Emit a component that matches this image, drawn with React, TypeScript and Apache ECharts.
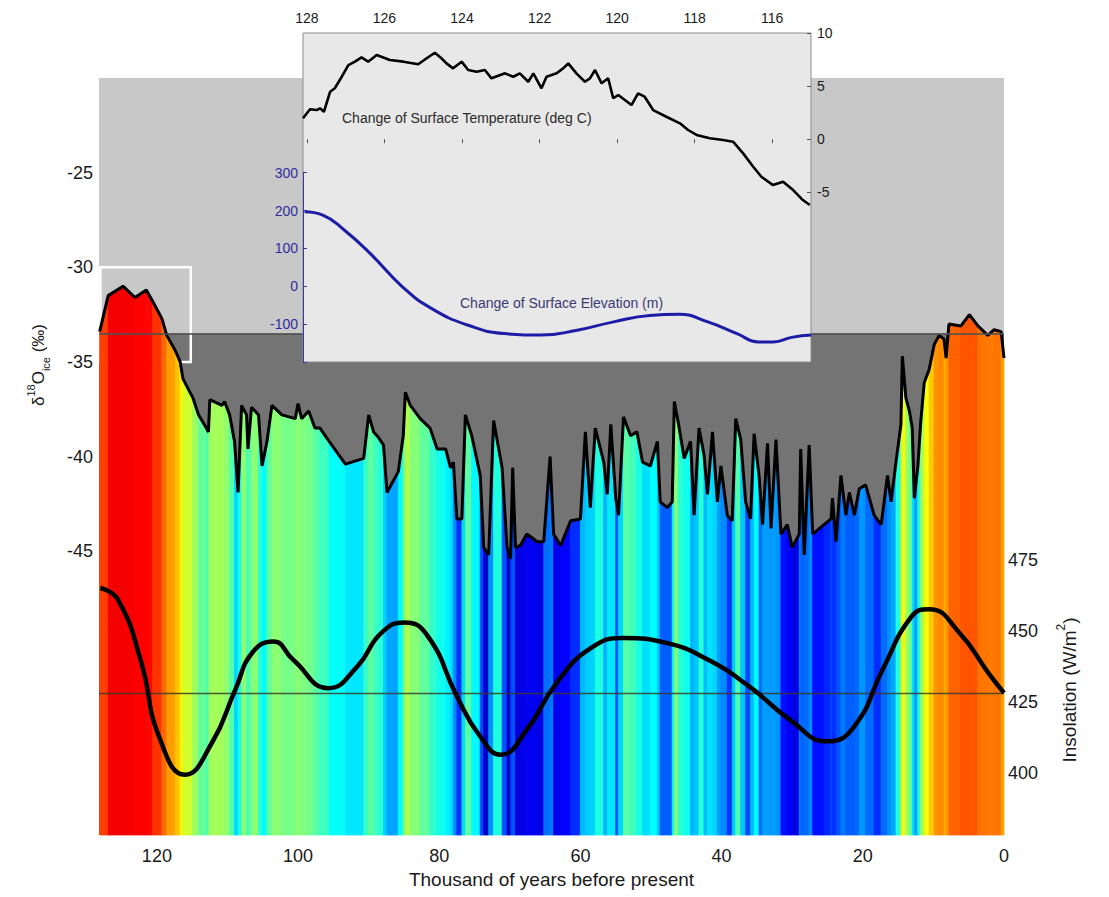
import React, { useEffect, useRef } from "react";
import * as echarts from "echarts";

// ---------- data ----------
// NGRIP-like δ18O record: [age (kyr BP), δ18O (‰)]
const D18O_RECORD: [number, number][] = [
  [128.1, -33.4], [126.9, -31.5], [124.8, -31.0], [123.1, -31.6], [121.5, -31.2], [120.6, -31.8],
  [119.3, -32.7], [118.6, -33.6], [117.4, -34.4], [116.7, -35.0], [116.3, -35.9], [114.9, -36.9],
  [114.1, -37.8], [113.0, -38.5], [112.7, -38.7], [112.5, -37.0], [110.8, -37.3], [110.4, -37.1],
  [109.7, -37.8], [109.0, -39.2], [108.5, -41.9], [108.0, -37.3], [107.3, -37.8], [107.1, -39.6],
  [106.6, -37.4], [105.6, -37.8], [105.1, -40.5], [104.4, -39.2], [103.7, -37.3], [102.3, -37.8],
  [100.4, -38.0], [100.0, -37.2], [99.5, -38.0], [98.5, -37.6], [97.6, -38.5], [96.9, -38.5],
  [95.6, -39.2], [93.3, -40.4], [90.7, -40.1], [90.0, -37.8], [89.3, -38.7], [88.6, -39.0],
  [87.9, -39.4], [87.4, -41.9], [85.8, -40.8], [85.1, -38.9], [84.8, -36.6], [84.1, -37.3],
  [82.7, -38.0], [81.3, -38.5], [80.3, -39.6], [79.1, -39.6], [78.4, -40.6], [78.0, -40.3],
  [77.5, -43.3], [76.8, -43.3], [76.3, -37.8], [75.4, -38.9], [74.2, -41.0], [73.7, -44.8],
  [73.0, -45.2], [72.3, -38.1], [71.1, -40.6], [70.4, -44.8], [69.9, -45.4], [69.6, -40.6],
  [69.2, -44.8], [68.5, -44.7], [67.6, -44.1], [66.1, -44.5], [65.2, -44.5], [64.3, -40.0],
  [63.8, -44.1], [62.8, -44.7], [61.4, -43.4], [60.0, -43.3], [59.3, -38.7], [58.6, -42.7],
  [57.9, -38.5], [56.7, -40.3], [56.2, -42.0], [55.7, -38.3], [55.0, -42.2], [54.6, -43.1],
  [53.9, -37.9], [52.9, -38.9], [52.0, -38.7], [51.2, -40.3], [50.1, -40.5], [49.1, -39.2],
  [48.7, -42.4], [47.7, -42.7], [47.0, -42.4], [46.7, -37.1], [46.1, -38.3], [45.3, -40.1],
  [44.4, -39.2], [43.9, -43.1], [43.2, -38.5], [42.5, -39.9], [42.0, -42.0], [41.3, -38.7],
  [40.6, -42.4], [40.1, -40.5], [39.2, -43.1], [38.5, -43.4], [38.0, -38.0], [37.3, -39.1],
  [36.6, -42.4], [35.9, -43.3], [35.4, -38.8], [34.7, -41.0], [34.2, -43.6], [33.5, -39.3],
  [33.0, -43.8], [32.3, -39.1], [31.6, -44.1], [30.7, -43.6], [30.0, -44.8], [29.0, -44.1],
  [28.8, -39.6], [28.3, -45.2], [27.6, -39.4], [27.1, -44.1], [25.5, -43.6], [24.5, -43.3],
  [24.3, -42.2], [23.8, -44.5], [23.1, -41.0], [22.4, -43.1], [21.9, -41.9], [21.2, -43.1],
  [20.5, -41.7], [19.6, -41.5], [18.4, -43.1], [17.4, -43.6], [16.5, -41.0], [16.0, -42.4],
  [15.3, -40.3], [14.6, -38.3], [14.4, -34.7], [13.9, -36.9], [13.4, -37.6], [13.0, -38.5],
  [12.7, -42.2], [12.2, -40.5], [11.8, -38.2], [11.3, -36.1], [10.6, -35.4], [9.9, -34.1],
  [9.2, -33.6], [8.5, -33.8], [8.2, -34.8], [7.8, -33.0], [6.1, -33.1], [4.9, -32.5],
  [3.7, -33.1], [2.3, -33.6], [1.4, -33.3], [0.4, -33.4], [0.0, -34.8],
];

// Summer insolation: [age (kyr BP), W/m2]
const INSOLATION: [number, number][] = [
  [128.0, 465.3], [125.5, 461.1], [122.2, 438.9], [119.7, 412.8], [116.0, 399.3], [112.2, 410.6],
  [108.9, 429.3], [106.5, 442.4], [103.5, 446.4], [100.7, 439.9], [95.7, 429.9], [91.6, 437.6],
  [88.2, 449.4], [84.9, 453.1], [81.6, 448.2], [77.5, 427.0], [74.2, 412.8], [71.3, 406.4],
  [67.6, 415.2], [63.4, 431.7], [58.5, 444.1], [53.9, 447.6], [47.7, 445.8], [41.9, 439.9],
  [36.1, 430.5], [30.3, 418.7], [25.0, 411.1], [21.2, 416.4], [17.2, 436.4], [13.1, 455.2],
  [10.6, 457.8], [6.3, 449.4], [2.2, 435.2], [0.0, 428.2],
];
const PRESENT_INSOLATION = 428;
const PRESENT_D18O_LEVEL = -33.5;

// Inset: change of surface temperature (deg C)
const TEMP_CHANGE: [number, number][] = [
  [128.1, 1.96], [127.92, 2.81], [127.75, 2.74], [127.66, 2.9], [127.56, 2.58], [127.4, 4.47],
  [127.28, 4.79], [127.1, 5.88], [126.93, 6.98], [126.76, 7.3], [126.59, 7.71], [126.42, 7.3],
  [126.2, 7.93], [125.86, 7.46], [125.51, 7.3], [125.13, 7.05], [124.91, 7.62], [124.7, 8.14],
  [124.53, 7.62], [124.4, 7.14], [124.23, 6.67], [124.01, 7.3], [123.84, 6.51], [123.62, 6.35],
  [123.41, 6.51], [123.24, 5.73], [122.89, 6.2], [122.68, 5.88], [122.51, 6.2], [122.29, 5.41],
  [122.16, 6.2], [121.95, 4.79], [121.82, 5.88], [121.56, 6.2], [121.39, 6.67], [121.26, 7.14],
  [121.05, 6.2], [120.83, 5.41], [120.7, 5.73], [120.57, 6.51], [120.4, 5.26], [120.23, 5.73],
  [120.1, 3.85], [119.97, 4.16], [119.8, 3.69], [119.63, 3.21], [119.46, 4.32], [119.29, 4.0],
  [119.07, 2.74], [118.73, 2.11], [118.38, 1.49], [118.17, 0.86], [117.95, 0.39], [117.61, 0.08],
  [117.27, -0.08], [117.01, -0.24], [116.75, -1.34], [116.49, -2.6], [116.28, -3.54], [115.98, -4.33],
  [115.72, -4.01], [115.46, -4.8], [115.21, -5.74], [115.03, -6.21],
];

// Inset: change of surface elevation (m)
const ELEV_CHANGE: [number, number][] = [
  [128.06, 197], [127.59, 188], [127.03, 148], [126.37, 87], [125.53, -2], [124.78, -59],
  [123.84, -103], [122.91, -125], [121.97, -129], [121.03, -116], [120.09, -94], [119.16, -77],
  [118.41, -74], [117.66, -94], [116.91, -125], [116.35, -147], [115.97, -147], [115.5, -135],
  [114.99, -129],
];

const MAIN_X_TICKS = [120, 100, 80, 60, 40, 20, 0];
const D18O_TICKS = [-25, -30, -35, -40, -45];
const INSOL_TICKS = [400, 425, 450, 475];
const INSET_X_TICKS = [128, 126, 124, 122, 120, 118, 116];
const TEMP_TICKS = [10, 5, 0, -5];
const ELEV_TICKS = [300, 200, 100, 0, -100];
// window of the main record shown in the inset
const INSET_WINDOW_AGE = [128, 115.2];
const INSET_WINDOW_D18O = [-30, -35];

// ---------- helpers ----------
const D18O_MIN = -60;
const D18O_MAX = -20;
const JET_LOW = -46.2;
const JET_HIGH = -29.3;

function jet(v: number): string {
  const t = Math.max(0, Math.min(1, (v - JET_LOW) / (JET_HIGH - JET_LOW)));
  const c = (x: number) => Math.round(255 * Math.max(0, Math.min(1, 1.5 - Math.abs(x))));
  return `rgb(${c(4 * t - 3)},${c(4 * t - 2)},${c(4 * t - 1)})`;
}

const FONT = "'Liberation Sans', Arial, Helvetica, sans-serif";
const TXT = "#1a1a1a";

export default function App() {
  const ref = useRef<HTMLDivElement>(null);

  useEffect(() => {
    if (!ref.current) return;
    const chart = echarts.init(ref.current, undefined, { renderer: "svg" });

    const segments: number[][] = [];
    for (let i = 0; i < D18O_RECORD.length - 1; i++) {
      segments.push([D18O_RECORD[i][0], D18O_RECORD[i][1], D18O_RECORD[i + 1][0], D18O_RECORD[i + 1][1]]);
    }

    const option: any = {
      animation: false,
      grid: [
        { left: 99, top: 78, width: 905, height: 757, show: true, backgroundColor: "#c8c8c8", borderWidth: 0, z: 0 },
        { left: 303, top: 33, width: 508, height: 329, show: true, backgroundColor: "#e8e8e8", borderColor: "#8c8c8c", borderWidth: 1, z: 20 },
        { left: 303, top: 172.7, width: 508, height: 189.3, show: false, z: 21 },
      ],
      xAxis: [
        {
          gridIndex: 0, type: "value", min: 0, max: 128.2, inverse: true,
          axisLine: { show: false }, axisTick: { show: false }, splitLine: { show: false },
          axisLabel: { customValues: MAIN_X_TICKS, fontSize: 18, color: TXT, fontFamily: FONT, margin: 12 },
          name: "Thousand of years before present", nameLocation: "middle", nameGap: 34,
          nameTextStyle: { fontSize: 19, color: TXT, fontFamily: FONT },
        },
        {
          gridIndex: 1, type: "value", min: 115, max: 128.1, inverse: true, position: "top", z: 22,
          axisLine: { show: false }, splitLine: { show: false },
          axisTick: { show: true, inside: true, length: 4, customValues: INSET_X_TICKS, lineStyle: { color: "#555" } },
          axisLabel: { customValues: INSET_X_TICKS, fontSize: 14, color: TXT, fontFamily: FONT, margin: 8 },
        },
        { gridIndex: 2, type: "value", min: 115, max: 128.1, inverse: true, show: false },
      ],
      yAxis: [
        {
          gridIndex: 0, type: "value", min: D18O_MIN, max: D18O_MAX, interval: 5,
          axisLine: { show: false }, axisTick: { show: false }, splitLine: { show: false },
          axisLabel: {
            fontSize: 18, color: TXT, fontFamily: FONT, margin: 6,
            formatter: (v: number) => (D18O_TICKS.includes(v) ? String(v) : ""),
          },
        },
        {
          gridIndex: 0, type: "value", min: 378, max: 645.5, position: "right",
          axisLine: { show: false }, axisTick: { show: false }, splitLine: { show: false },
          axisLabel: { customValues: INSOL_TICKS, fontSize: 18, color: TXT, fontFamily: FONT, margin: 4 },
        },
        {
          gridIndex: 1, type: "value", min: -21, max: 10, position: "right", z: 22,
          axisLine: { show: false }, splitLine: { show: false },
          axisTick: { show: true, inside: true, length: 4, customValues: TEMP_TICKS, lineStyle: { color: "#555" } },
          axisLabel: { customValues: TEMP_TICKS, fontSize: 14, color: TXT, fontFamily: FONT, margin: 6 },
        },
        {
          gridIndex: 2, type: "value", min: -200, max: 300, interval: 100, position: "left", z: 22,
          axisLine: { show: true, lineStyle: { color: "#3a3a9a", width: 1 } }, splitLine: { show: false },
          axisTick: { show: true, inside: true, length: 4, lineStyle: { color: "#3a3a9a" } },
          axisLabel: {
            fontSize: 14, color: "#2e2e9e", fontFamily: FONT, margin: 5,
            formatter: (v: number) => (ELEV_TICKS.includes(v) ? String(v) : ""),
          },
        },
      ],
      series: [
        {
          // dark-gray zone below present-day level
          type: "line", xAxisIndex: 0, yAxisIndex: 0, z: 1, silent: true,
          data: [[0, D18O_MIN], [128.2, D18O_MIN]], symbol: "none", lineStyle: { opacity: 0 },
          markArea: { silent: true, itemStyle: { color: "#747474" }, data: [[{ yAxis: PRESENT_D18O_LEVEL }, { yAxis: D18O_MIN }]] },
        },
        {
          // jet-coloured fill beneath the δ18O curve
          type: "custom", xAxisIndex: 0, yAxisIndex: 0, z: 2, silent: true,
          data: segments,
          encode: { x: [0, 2], y: [1, 3] },
          renderItem: (_params: any, api: any) => {
            const a0 = api.value(0), v0 = api.value(1), a1 = api.value(2), v1 = api.value(3);
            const p0 = api.coord([a0, v0]);
            const p1 = api.coord([a1, v1]);
            const b1 = api.coord([a1, D18O_MIN]);
            const b0 = api.coord([a0, D18O_MIN]);
            const col = jet((v0 + v1) / 2);
            return {
              type: "polygon",
              shape: { points: [p0, p1, b1, b0] },
              style: { fill: col, stroke: col, lineWidth: 0.8 },
            };
          },
        },
        {
          type: "line", xAxisIndex: 0, yAxisIndex: 0, z: 3, silent: true,
          data: [], symbol: "none",
          markLine: {
            silent: true, symbol: "none", label: { show: false },
            lineStyle: { color: "rgba(80,80,80,0.8)", width: 2, type: "solid" },
            data: [{ yAxis: PRESENT_D18O_LEVEL }],
          },
        },
        {
          type: "line", xAxisIndex: 0, yAxisIndex: 0, z: 4, silent: true,
          data: D18O_RECORD, symbol: "none",
          lineStyle: { color: "#000", width: 3 },
        },
        {
          type: "line", xAxisIndex: 0, yAxisIndex: 1, z: 5, silent: true,
          data: INSOLATION, symbol: "none", smooth: 0.5,
          lineStyle: { color: "#000", width: 4.5 },
          markLine: {
            silent: true, symbol: "none", label: { show: false },
            lineStyle: { color: "rgba(60,60,40,0.85)", width: 1.3, type: "solid" },
            data: [{ yAxis: PRESENT_INSOLATION }],
          },
        },
        {
          type: "line", xAxisIndex: 0, yAxisIndex: 0, z: 6, silent: true,
          data: [], symbol: "none",
          markArea: {
            silent: true,
            itemStyle: { color: "rgba(0,0,0,0)", borderColor: "#ffffff", borderWidth: 2.5 },
            data: [[
              { xAxis: INSET_WINDOW_AGE[0], yAxis: INSET_WINDOW_D18O[0] },
              { xAxis: INSET_WINDOW_AGE[1], yAxis: INSET_WINDOW_D18O[1] },
            ]],
          },
        },
        {
          type: "line", xAxisIndex: 1, yAxisIndex: 2, z: 23, silent: true,
          data: TEMP_CHANGE, symbol: "none",
          lineStyle: { color: "#000", width: 2.6 },
          markLine: {
            silent: true, symbol: "none", label: { show: false },
            lineStyle: { color: "#8c8c8c", width: 1.5, type: "solid" },
            data: [{ yAxis: 0 }],
          },
        },
        {
          type: "line", xAxisIndex: 2, yAxisIndex: 3, z: 23, silent: true,
          data: ELEV_CHANGE, symbol: "none", smooth: 0.5,
          lineStyle: { color: "#1c1ca6", width: 3 },
          markLine: {
            silent: true, symbol: "none", label: { show: false },
            lineStyle: { color: "#7a7ab4", width: 1.5, type: "solid" },
            data: [{ yAxis: 0 }],
          },
        },
      ],
      graphic: [
        {
          type: "text", x: 38, y: 365, rotation: Math.PI / 2, z: 30, silent: true,
          style: {
            text: "{a|δ}{s|18}{a|O}{b|ice}{a| (‰)}",
            align: "center", verticalAlign: "middle",
            rich: {
              a: { fontSize: 17, fontFamily: FONT, fill: TXT, lineHeight: 26 },
              s: { fontSize: 11, fontFamily: FONT, fill: TXT, verticalAlign: "top", lineHeight: 26 },
              b: { fontSize: 11, fontFamily: FONT, fill: TXT, verticalAlign: "bottom", lineHeight: 26 },
            },
          },
        },
        {
          type: "text", x: 1069, y: 690, rotation: Math.PI / 2, z: 30, silent: true,
          style: {
            text: "{a|Insolation (W/m}{s|2}{a|)}",
            align: "center", verticalAlign: "middle",
            rich: {
              a: { fontSize: 19, fontFamily: FONT, fill: TXT, lineHeight: 28 },
              s: { fontSize: 12, fontFamily: FONT, fill: TXT, verticalAlign: "top", lineHeight: 28 },
            },
          },
        },
        {
          type: "text", x: 342, y: 118, z: 30, silent: true,
          style: {
            text: "Change of Surface Temperature (deg C)", fontSize: 14, fontFamily: FONT,
            fill: "#2a2a2a", align: "left", verticalAlign: "middle",
          },
        },
        {
          type: "text", x: 460, y: 303, z: 30, silent: true,
          style: {
            text: "Change of Surface Elevation (m)", fontSize: 14, fontFamily: FONT,
            fill: "#3a3a72", align: "left", verticalAlign: "middle",
          },
        },
      ],
    };

    chart.setOption(option);
    return () => chart.dispose();
  }, []);

  return (
    <div
      ref={ref}
      style={{ position: "fixed", left: 0, top: 0, width: 1109, height: 897, background: "#ffffff" }}
    />
  );
}
